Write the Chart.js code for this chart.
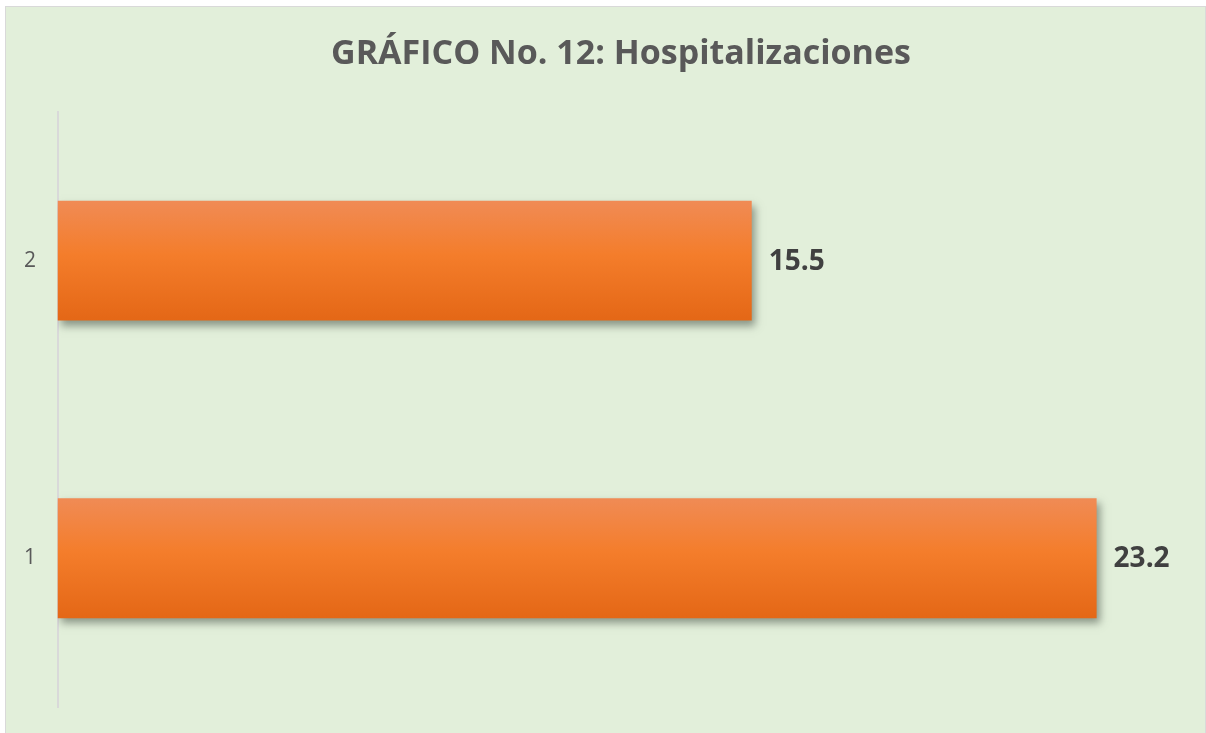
<!DOCTYPE html>
<html>
<head>
<meta charset="utf-8">
<script src="https://cdn.jsdelivr.net/npm/chart.js@4/dist/chart.umd.min.js"></script>
<style>
  html, body { margin: 0; padding: 0; background: #ffffff; }
  #frame { position: absolute; left: 5px; top: 6px; width: 1199px; height: 727px; border: 1px solid #D9D9D9; border-bottom: none; background: #E2EFDA; }
  #c { display: block; }
</style>
</head>
<body>
<div id="frame"><canvas id="c" width="1199" height="727"></canvas></div>
<script>
const titleText = 'GRÁFICO No. 12: Hospitalizaciones';
const categories = ['1', '2'];
const values = [23.2, 15.5];
const barFraction = 0.403;

const shadowPlugin = {
  id: 'barShadow',
  beforeDatasetsDraw(chart) {
    const ctx = chart.ctx;
    ctx.save();
    ctx.shadowColor = 'rgba(50,60,50,0.5)';
    ctx.shadowBlur = 8;
    ctx.shadowOffsetX = 3;
    ctx.shadowOffsetY = 5;
  },
  afterDatasetsDraw(chart) {
    chart.ctx.restore();
  }
};

const valueLabelPlugin = {
  id: 'valueLabels',
  afterDatasetsDraw(chart) {
    const ctx = chart.ctx;
    const meta = chart.getDatasetMeta(0);
    ctx.save();
    ctx.font = 'bold 28px "Open Sans", "Liberation Sans", sans-serif';
    ctx.fillStyle = '#404040';
    ctx.textAlign = 'left';
    ctx.textBaseline = 'middle';
    meta.data.forEach((bar, i) => {
      ctx.fillText(values[i].toFixed(1), bar.x + 17, bar.y + 1);
    });
    ctx.restore();
  }
};

function barGradient(context) {
  const chart = context.chart;
  if (!chart.chartArea || !chart.scales.y) return '#F47C2C';
  const y = chart.scales.y;
  const yc = y.getPixelForValue(context.dataIndex);
  const band = Math.abs(y.getPixelForValue(1) - y.getPixelForValue(0));
  const h = band * barFraction;
  const g = chart.ctx.createLinearGradient(0, yc - h / 2, 0, yc + h / 2);
  g.addColorStop(0, '#F08B55');
  g.addColorStop(0.45, '#F47D2B');
  g.addColorStop(1, '#E46716');
  return g;
}

new Chart(document.getElementById('c'), {
  type: 'bar',
  data: {
    labels: categories,
    datasets: [{
      data: values,
      backgroundColor: barGradient,
      borderWidth: 0,
      barPercentage: barFraction,
      categoryPercentage: 1
    }]
  },
  options: {
    indexAxis: 'y',
    responsive: false,
    animation: false,
    layout: { padding: { left: 18, right: -13, top: 0, bottom: 27 } },
    plugins: {
      legend: { display: false },
      tooltip: { enabled: false },
      title: {
        display: true,
        text: titleText,
        color: '#595959',
        font: { family: '"Open Sans", "Liberation Sans", sans-serif', size: 34, weight: 'bold', lineHeight: 1.2 },
        padding: { top: 27, bottom: 37 }
      }
    },
    scales: {
      x: {
        display: false,
        min: 0,
        max: 25.62
      },
      y: {
        reverse: true,
        grid: { display: false, drawTicks: false },
        border: { display: true, color: '#D9D9D9', width: 2 },
        ticks: {
          color: '#595959',
          padding: 0,
          crossAlign: 'far',
          font: { family: '"Open Sans", "Liberation Sans", sans-serif', size: 21 }
        },
        afterFit(scale) {
          scale.width = 33.5;
          scale.paddingTop = 0;
          scale.paddingBottom = 0;
        }
      }
    }
  },
  plugins: [shadowPlugin, valueLabelPlugin]
});
</script>
</body>
</html>
